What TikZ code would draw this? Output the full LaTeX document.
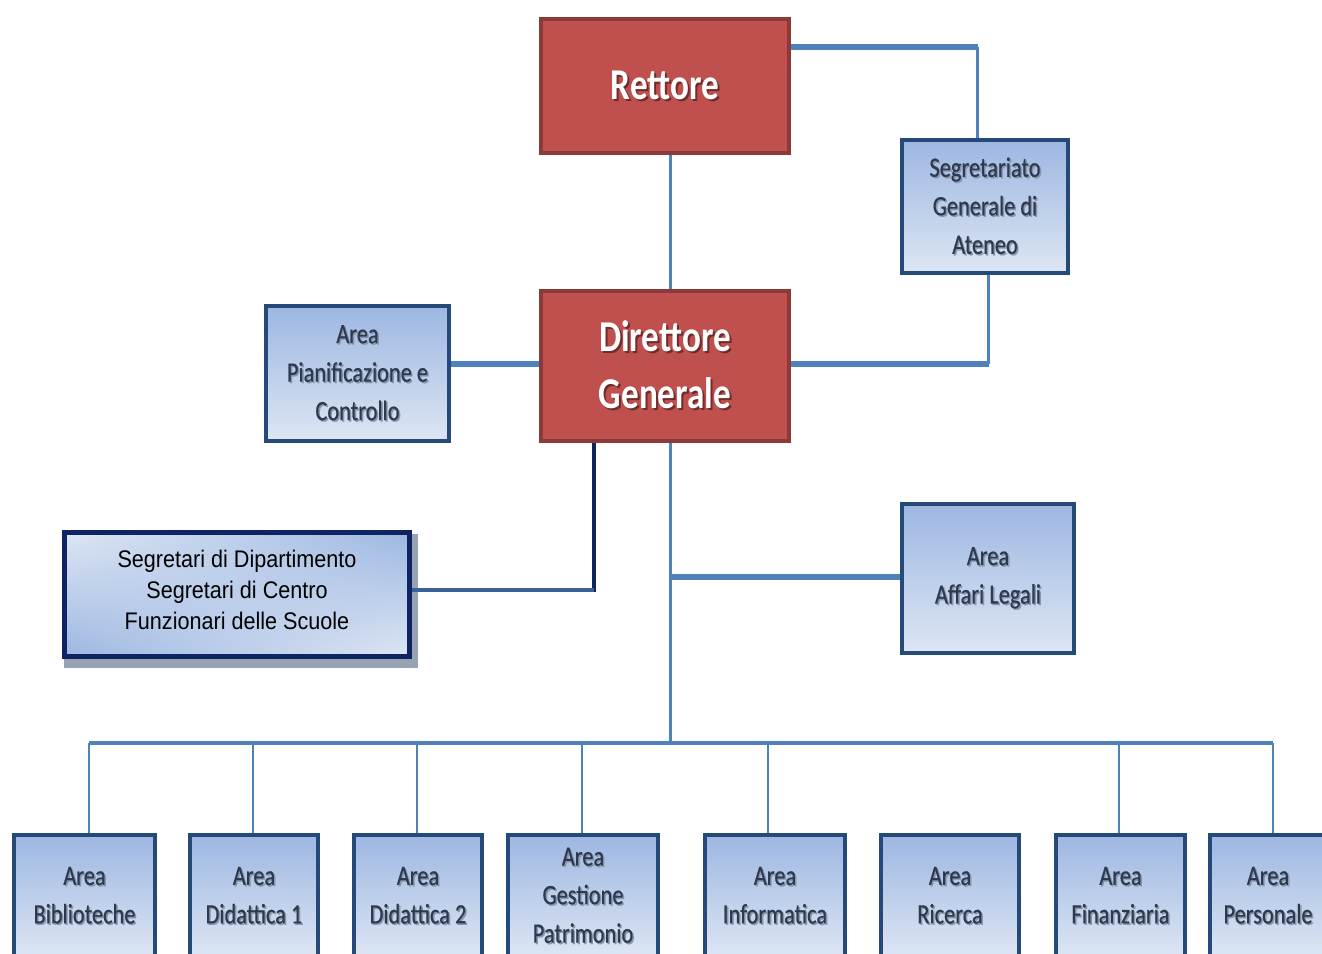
\documentclass[tikz,border=0pt]{standalone}
\usepackage{fontspec}
\usetikzlibrary{shadings,backgrounds,calc}
\newfontfamily\calfont[FakeStretch=0.8]{Carlito}
\newfontfamily\calbfont[FakeStretch=0.8,FakeBold=0.5]{Carlito}
\newfontfamily\narfont[FakeStretch=0.9]{Liberation Sans}
\definecolor{redfill}{HTML}{C0504D}
\definecolor{redline}{HTML}{8C3A38}
\definecolor{bluetop}{HTML}{9DB7E2}
\definecolor{bluebot}{HTML}{DDE6F3}
\definecolor{boxline}{HTML}{254A7A}
\definecolor{navyc}{HTML}{0F2463}
\definecolor{connc}{HTML}{4F81BD}
\definecolor{conndark}{HTML}{3A6298}
\definecolor{txtblue}{HTML}{2B3A52}
\definecolor{txtshadow}{HTML}{8C96A6}
\definecolor{redshadow}{HTML}{6E2C2A}
\definecolor{boxshadow}{HTML}{97A3B5}
\newcommand\shb[1]{\leavevmode\rlap{\hspace{1.5pt}\raisebox{-1.5pt}{\textcolor{txtshadow}{#1}}}\textcolor{txtblue}{#1}}
\newcommand\shr[1]{\leavevmode\rlap{\hspace{2pt}\raisebox{-2pt}{\textcolor{redshadow}{#1}}}\textcolor{white}{#1}}
\tikzset{
  redbox/.style={draw=redline, line width=4pt, fill=redfill, align=center,
    font=\calfont\bfseries\fontsize{44}{57}\selectfont, inner sep=0pt},
  bluebox/.style={draw=boxline, line width=4pt, top color=bluetop, bottom color=bluebot,
    align=center, font=\calbfont\fontsize{28}{38.5}\selectfont, inner sep=0pt},
  segbox/.style={draw=navyc, line width=5pt, shade, shading=bilinear interpolation,
    upper left=bluebot, upper right=bluetop, lower left=bluetop, lower right=bluebot,
    align=center, font=\narfont\fontsize{24}{31}\selectfont, inner sep=0pt},
  conn/.style={draw=connc, line width=3pt},
  connthick/.style={draw=connc, line width=5.5pt},
  drop/.style={draw=connc, line width=2.5pt},
  busline/.style={draw=connc, line width=4pt},
  navyline/.style={draw=navyc, line width=4pt},
  darkconn/.style={draw=conndark, line width=4pt}
}
\begin{document}
\begin{tikzpicture}[x=1pt,y=-1pt]
\useasboundingbox (0,0) rectangle (1322,953);
\clip (0,0) rectangle (1322,953);

% main nodes
\node[redbox, minimum width=248pt, minimum height=134pt] (r) at (665,86) {\shr{Rettore}};
\node[redbox, minimum width=248pt, minimum height=150pt] (dg) at (665,366) {\shr{Direttore}\\\shr{Generale}};
\node[bluebox, minimum width=166pt, minimum height=133pt] (sg) at (985,206.5) {\shb{Segretariato}\\\shb{Generale di}\\\shb{Ateneo}};
\node[bluebox, minimum width=183pt, minimum height=135pt] (ap) at (357.5,373.5) {\shb{Area}\\\shb{Pianificazione e}\\\shb{Controllo}};
\node[bluebox, minimum width=172pt, minimum height=149pt] (al) at (988,578.5) {\shb{Area}\\\shb{Affari Legali}};
\node[segbox, minimum width=345pt, minimum height=124pt] (sd) at (237,594.5) {Segretari di Dipartimento\\Segretari di Centro\\Funzionari delle Scuole\\[-21pt]};

% bottom row
\node[bluebox, minimum width=141pt, minimum height=122pt] (b1) at (84.5,896) {\shb{Area}\\\shb{Biblioteche}};
\node[bluebox, minimum width=128pt, minimum height=122pt] (b2) at (254,896) {\shb{Area}\\\shb{Didattica 1}};
\node[bluebox, minimum width=128pt, minimum height=122pt] (b3) at (418,896) {\shb{Area}\\\shb{Didattica 2}};
\node[bluebox, minimum width=150pt, minimum height=122pt] (b4) at (583,896) {\shb{Area}\\\shb{Gestione}\\\shb{Patrimonio}};
\node[bluebox, minimum width=140pt, minimum height=122pt] (b5) at (775,896) {\shb{Area}\\\shb{Informatica}};
\node[bluebox, minimum width=138pt, minimum height=122pt] (b6) at (950,896) {\shb{Area}\\\shb{Ricerca}};
\node[bluebox, minimum width=129pt, minimum height=122pt] (b7) at (1120.5,896) {\shb{Area}\\\shb{Finanziaria}};
\node[bluebox, minimum width=116pt, minimum height=122pt] (b8) at (1268,896) {\shb{Area}\\\shb{Personale}};

% connectors
\begin{scope}[on background layer]
  \fill[boxshadow] ($(sd.south west)+(1.5,8.5)$) rectangle ($(sd.north east)+(5.5,3.5)$);
  \coordinate (t) at (670,743);
  \draw[conn] (t |- r.south) -- (t |- dg.north);
  \coordinate (c1) at (977,47);
  \draw[connthick] (c1 -| r.east) -- ([xshift=1pt]c1);
  \draw[conn] (c1) -- (c1 |- sg.north);
  \coordinate (c2) at (988,364);
  \draw[conn] (c2 |- sg.south) -- (c2);
  \draw[connthick] ([xshift=1pt]c2) -- (c2 -| dg.east);
  \draw[connthick] (c2 -| ap.east) -- (c2 -| dg.west);
  \coordinate (c3) at (594,590);
  \draw[navyline] (c3 |- dg.south) -- ([yshift=-2pt]c3);
  \draw[darkconn] (c3) -- (c3 -| sd.east);
  \draw[conn] (t |- dg.south) -- (t);
  \coordinate (c4) at (670,577);
  \draw[connthick] (c4) -- (c4 -| al.west);
  \coordinate (bl) at (89,743);
  \coordinate (br) at (1273,743);
  \draw[busline] (bl) -- (br);
  \foreach \n/\x in {b1/89, b2/253, b3/417, b4/582, b5/768, b7/1119, b8/1273} {
    \coordinate (d\n) at (\x,743);
    \draw[drop] (d\n) -- (d\n |- \n.north);
  }
\end{scope}
\end{tikzpicture}
\end{document}
